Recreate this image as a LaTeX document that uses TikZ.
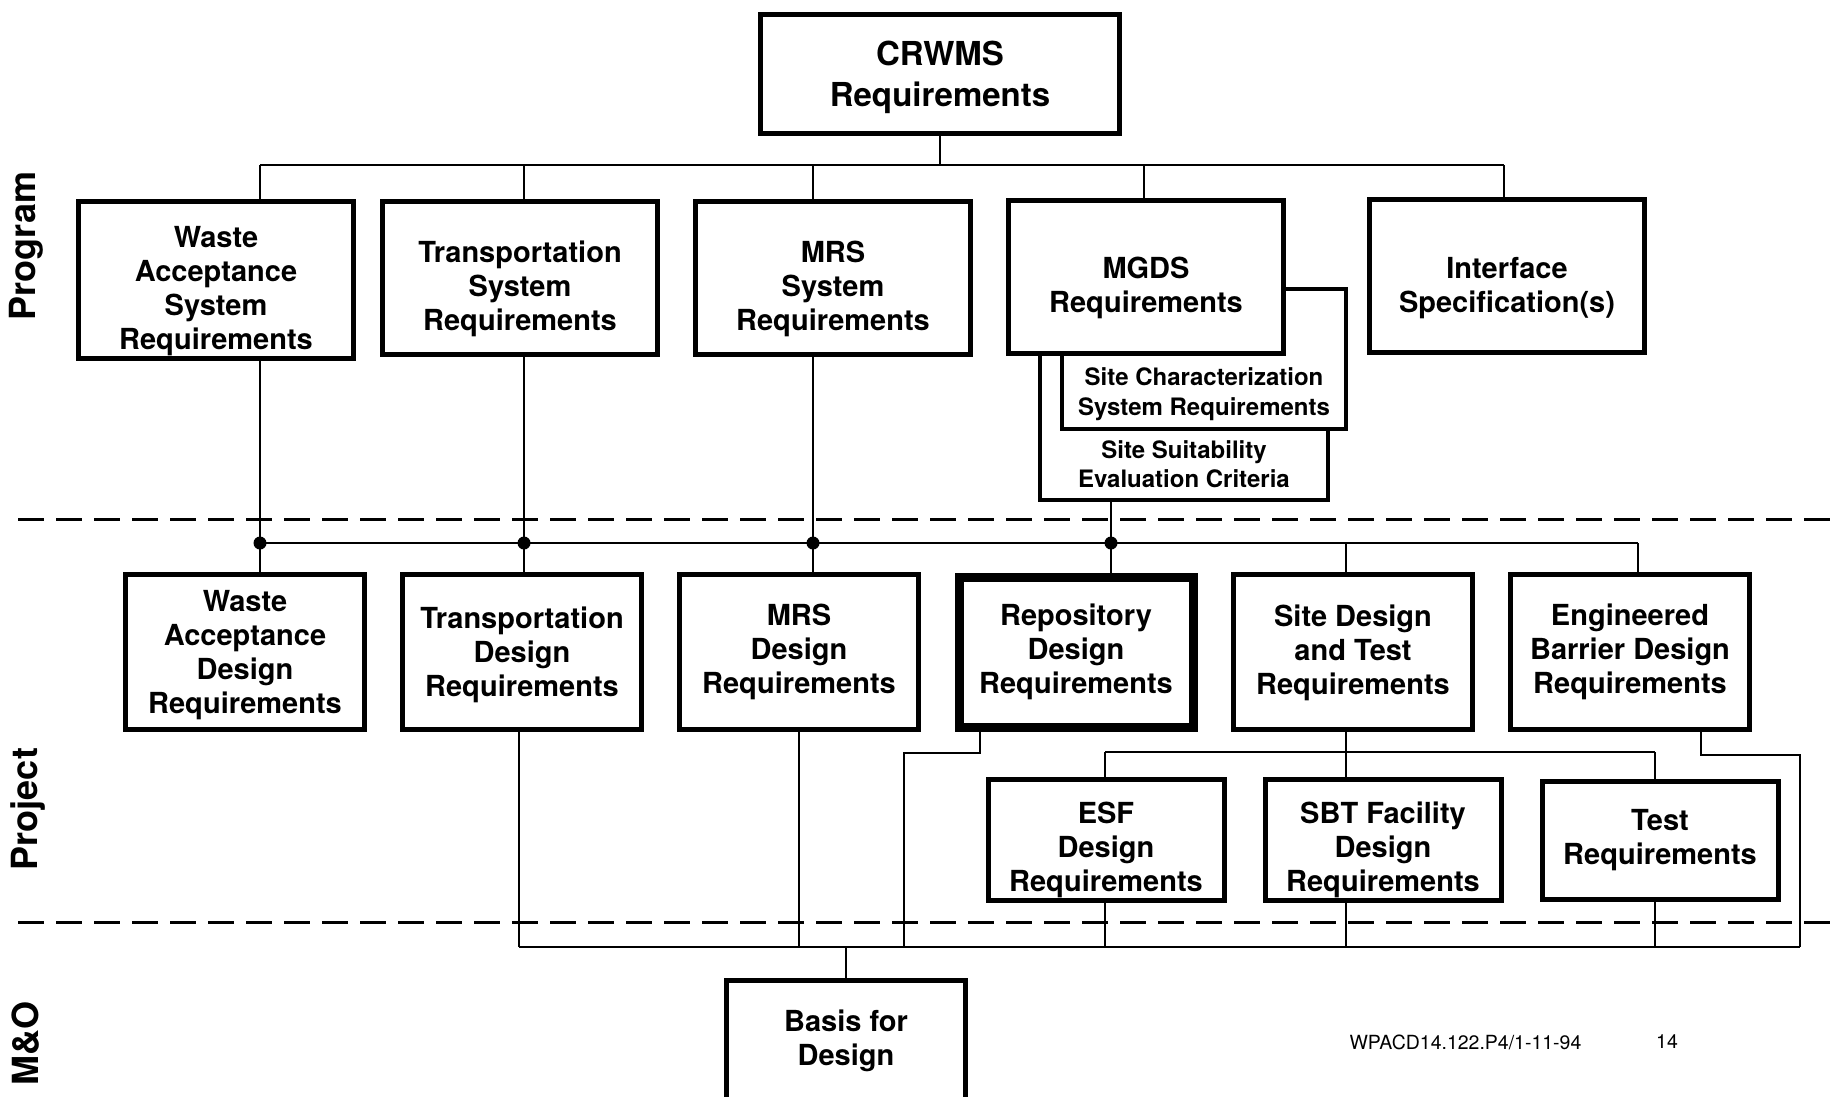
\documentclass[tikz,border=0pt]{standalone}
\usepackage{fontspec}
\setmainfont{TeX Gyre Heros}
\usetikzlibrary{positioning}

\newcommand{\boxfont}{\fontsize{29}{34}\selectfont\bfseries}
\newcommand{\topfont}{\fontsize{33}{41}\selectfont\bfseries}
\newcommand{\sitefont}{\fontsize{24}{29.5}\selectfont\bfseries}
\newcommand{\lanefont}{\fontsize{36}{40}\selectfont\bfseries}
\newcommand{\footfont}{\fontsize{19.5}{22}\selectfont}
% pushes the text of a box a little down
\newcommand{\sink}[1]{\rule{0pt}{#1}}

\begin{document}
\begin{tikzpicture}[x=1pt,y=-1pt,node distance=277pt,
    reqbox/.style={draw,line width=5pt,fill=white,align=center,inner sep=2pt,font=\boxfont},
    progbox/.style={reqbox,minimum width=275pt,minimum height=153pt},
    projbox/.style={reqbox,minimum width=239pt,minimum height=155pt},
    subbox/.style={reqbox,minimum width=236pt,minimum height=118pt},
    sitebox/.style={draw,line width=4.5pt,fill=white},
    sitetext/.style={align=center,anchor=south,font=\sitefont},
    wire/.style={line width=2.5pt},
    divider/.style={line width=3pt,dash pattern=on 26pt off 12pt},
    lanelbl/.style={rotate=90,font=\lanefont},
    foottext/.style={font=\footfont}]

    \useasboundingbox (0,0) rectangle (1838,1096);
    \clip (0,0) rectangle (1838,1096);

    % program level
    \node[reqbox,minimum width=359pt,minimum height=119pt,font=\topfont] (crwms) at (940,74) {\sink{32pt}CRWMS\\Requirements};

    \node[progbox] (wa) at (216,280) {\sink{44pt}Waste\\Acceptance\\System\\Requirements};
    \node[progbox] (trans) at (520,278) {\sink{44pt}Transportation\\System\\Requirements};
    \node[progbox] (mrs) at (833,278) {\sink{44pt}MRS\\System\\Requirements};
    \node[sitebox,minimum width=288pt,minimum height=168pt] (suit) at (1184,416) {};
    \node[sitetext,inner sep=14pt] (suittxt) at (suit.south) {Site Suitability\\Evaluation Criteria};
    \node[sitebox,minimum width=284pt,minimum height=140pt] (char) at (1204,359) {};
    \node[sitetext,inner sep=10.5pt] (chartxt) at (char.south) {Site Characterization\\System Requirements};
    \node[progbox] (mgds) at (1146,277) {\sink{44pt}MGDS\\Requirements};
    \node[progbox] (iface) at (1507,276) {\sink{46pt}Interface\\Specification(s)};

    % project level
    \node[projbox] (wad) at (245,652) {\sink{28pt}Waste\\Acceptance\\Design\\Requirements};
    \node[projbox] (transd) [right of=wad] {\sink{28pt}Transportation\\Design\\Requirements};
    \node[projbox] (mrsd) [right of=transd] {MRS\\Design\\Requirements};
    \node[projbox,line width=9pt,minimum width=234pt,minimum height=150pt] (repd) [right of=mrsd] {Repository\\Design\\Requirements};
    \node[projbox] (sdt) [right of=repd] {\sink{24pt}Site Design\\and Test\\Requirements};
    \node[projbox] (ebd) [right of=sdt] {Engineered\\Barrier Design\\Requirements};

    \node[subbox] (esf) at (1106,840) {\sink{42pt}ESF\\Design\\Requirements};
    \node[subbox] (sbt) [right of=esf] {\sink{42pt}SBT Facility\\Design\\Requirements};
    \node[subbox] (test) [right of=sbt] {Test\\Requirements};

    % M&O level
    \node[projbox,minimum height=119pt] (basis) at (846,1040) {\sink{24pt}Basis for\\Design};

    \node[lanelbl] (program) at (26,246) {Program};
    \node[lanelbl] (project) at (28,809) {Project};
    \node[lanelbl] (mando) at (26,1043) {M\&O};

    \node[foottext,anchor=west] (docref) at (1346,1042) {WPACD14.122.P4/1-11-94};
    \node[foottext] (pageno) at (1667,1042) {14};

    % level boundaries
    \draw[divider] (18,519) -- (1838,519);
    \draw[divider] (18,922) -- (1838,922);

    % top bus
    \coordinate (topbus) at (940,165);
    \coordinate (ta) at (260,165);
    \coordinate (tb) at (524,165);
    \coordinate (tc) at (813,165);
    \coordinate (te) at (1144,165);
    \coordinate (tf) at (1504,165);
    \draw[wire] (crwms) -- (topbus);
    \draw[wire] (ta) -- (tf);
    \foreach \c/\n in {ta/wa,tb/trans,tc/mrs,te/mgds,tf/iface}
        \draw[wire] (\c) -- (\c |- \n.north);

    % middle bus
    \coordinate (ma) at (260,543);
    \coordinate (mb) at (524,543);
    \coordinate (mc) at (813,543);
    \coordinate (md) at (1111,543);
    \coordinate (me) at (1346,543);
    \coordinate (mf) at (1638,543);
    \draw[wire] (ma) -- (mf);
    \foreach \c/\u/\d in {ma/wa/wad,mb/trans/transd,mc/mrs/mrsd,md/suit/repd} {
        \draw[wire] (\c |- \u.south) -- (\c |- \d.north);
        \fill (\c) circle (6.5);
    }
    \draw[wire] (me) -- (me |- sdt.north);
    \draw[wire] (mf) -- (mf |- ebd.north);

    % site design and test branches
    \coordinate (sb) at (1346,752);
    \draw[wire] (sdt.south -| sb) -- (sb);
    \draw[wire] (1105,752) -- (1655,752);

    % bottom bus
    \coordinate (la) at (519,947);
    \coordinate (lz) at (1800,947);
    \draw[wire] (la) -- (lz);
    \draw[wire] (la |- transd.south) -- (la);
    \draw[wire] (mrsd.south) -- (mrsd.south |- la);
    \draw[wire] (repd.south -| 980,0) |- (904,753) -- (904,947);
    \foreach \x/\n in {1105/esf,1346/sbt,1655/test} {
        \draw[wire] (\x,752) -- (\n.north -| \x,0);
        \draw[wire] (\n.south -| \x,0) -- (\x,947);
    }
    \draw[wire] (ebd.south -| 1701,0) |- (1800,755) -- (lz);
    \draw[wire] (basis.north) -- (basis.north |- la);

\end{tikzpicture}
\end{document}
